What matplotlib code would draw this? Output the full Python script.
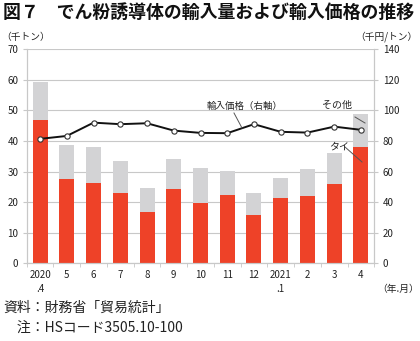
import matplotlib
matplotlib.use("Agg")
import matplotlib.pyplot as plt
import numpy as np
from matplotlib.lines import Line2D

plt.rcParams['font.family'] = ['Noto Sans CJK JP', 'DejaVu Sans']

months = ["2020\n.4", "5", "6", "7", "8", "9", "10", "11", "12", "2021\n.1", "2", "3", "4"]
thai = [46.8, 27.6, 26.2, 23.0, 16.7, 24.4, 19.8, 22.4, 15.9, 21.4, 22.1, 25.9, 38.1]
total = [59.3, 38.6, 37.9, 33.5, 24.7, 34.1, 31.3, 30.3, 23.1, 28.0, 31.0, 36.2, 48.8]
others = [t - h for t, h in zip(total, thai)]
price = [81.4, 83.3, 92.0, 91.0, 91.6, 86.8, 85.3, 85.1, 91.0, 86.0, 85.5, 89.4, 87.3]

red = '#ee4228'
gray = '#d3d3d5'
gridc = '#c8c8c8'
txtc = '#222222'

fig = plt.figure(figsize=(4.2, 3.41), dpi=100)
ax = fig.add_axes([0.0636, 0.2279, 0.8276, 0.6276])
x = np.arange(len(months))
ax.bar(x, thai, width=0.56, color=red, zorder=2)
ax.bar(x, others, bottom=thai, width=0.56, color=gray, zorder=2)
ax.set_xlim(-0.5, len(months) - 0.5)
ax.set_ylim(0, 70)
ax.set_yticks(np.arange(0, 71, 10))
ax.yaxis.grid(True, color=gridc, linewidth=0.8, zorder=0)
ax.set_axisbelow(True)
ax.spines['top'].set_visible(False)
for s in ['left', 'right', 'bottom']:
    ax.spines[s].set_color(gridc)
    ax.spines[s].set_linewidth(0.8)
ax.tick_params(axis='y', length=3, color=gridc, labelsize=7, pad=3, labelcolor=txtc)
ax.set_xticks(x)
ax.set_xticklabels(months, fontsize=7, color=txtc, linespacing=1.5, va='top')
ax.tick_params(axis='x', which='major', length=0, pad=5)
ax.set_xticks(np.arange(-0.5, len(months), 1), minor=True)
ax.tick_params(axis='x', which='minor', length=3, color=gridc)

ax2 = ax.twinx()
ax2.set_ylim(0, 140)
ax2.set_yticks(np.arange(0, 141, 20))
ax2.plot(x, price, color='#111111', linewidth=1.4, marker='o', markersize=3.8,
         markerfacecolor='white', markeredgecolor='#333333', markeredgewidth=0.8, zorder=3)
ax2.spines['top'].set_visible(False)
for s in ['left', 'right', 'bottom']:
    ax2.spines[s].set_color(gridc)
    ax2.spines[s].set_linewidth(0.8)
ax2.tick_params(axis='y', length=3, color=gridc, labelsize=7, pad=3, labelcolor=txtc)

# annotations
fig.text(207 / 420, 1 - 106 / 341, "輸入価格（右軸）", fontsize=6.8, color=txtc, va='center', ha='left')
fig.text(322 / 420, 1 - 105 / 341, "その他", fontsize=7.2, color=txtc, va='center', ha='left')
fig.text(329 / 420, 1 - 147 / 341, "タイ", fontsize=7.2, color=txtc, va='center', ha='left')

def leader(x0, y0, x1, y1):
    fig.add_artist(Line2D([x0 / 420, x1 / 420], [1 - y0 / 341, 1 - y1 / 341],
                          color='#555555', linewidth=0.7))
leader(234, 113, 242, 128)
leader(355, 117, 365, 123)
leader(345, 147, 362, 162)

fig.text(3 / 420, 1 - 13 / 341, "図７　でん粉誘導体の輸入量および輸入価格の推移",
         fontsize=12.9, fontweight='bold', color='#111111', va='center', ha='left')
fig.text(1 / 420, 1 - 37 / 341, "（千トン）", fontsize=7, color=txtc, va='center', ha='left')
fig.text(418 / 420, 1 - 37 / 341, "（千円/トン）", fontsize=7, color=txtc, va='center', ha='right')
fig.text(419 / 420, 1 - 289 / 341, "（年.月）", fontsize=7, color=txtc, va='center', ha='right')
fig.text(3 / 420, 1 - 308 / 341, "資料：財務省「貿易統計」", fontsize=10, color=txtc, va='center', ha='left')
fig.text(3 / 420, 1 - 328 / 341, "　注：HSコード3505.10-100", fontsize=10, color=txtc, va='center', ha='left')

fig.savefig("out.png", dpi=100)
